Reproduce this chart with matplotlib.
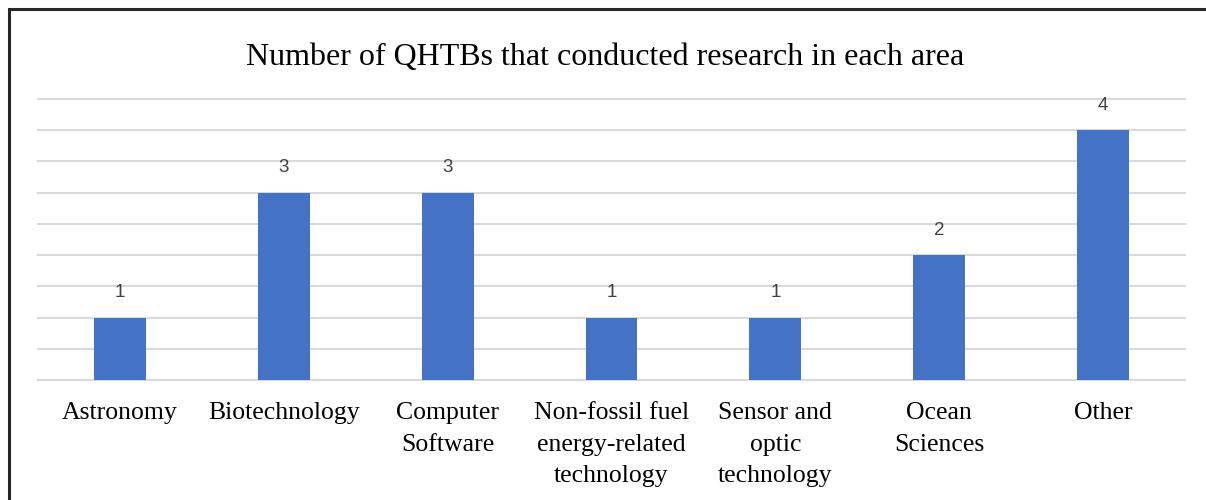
import matplotlib
matplotlib.use('Agg')
import matplotlib.pyplot as plt
from matplotlib.patches import Rectangle

categories = ['Astronomy', 'Biotechnology', 'Computer\nSoftware', 'Non-fossil fuel\nenergy-related\ntechnology',
              'Sensor and\noptic\ntechnology', 'Ocean\nSciences', 'Other']
counts = [1, 3, 3, 1, 1, 2, 4]

serif = ['Liberation Serif', 'DejaVu Serif']

fig = plt.figure(figsize=(12.06, 5.0), dpi=100)
ax = fig.add_axes([38 / 1206, 1 - 380 / 500, 1147 / 1206, 281 / 500])

x = list(range(len(categories)))
bars = ax.bar(x, counts, width=0.317, color='#4472c4', zorder=3)
for b, v in zip(bars, counts):
    ax.annotate(str(v), (b.get_x() + b.get_width() / 2, v), xytext=(0, 18), textcoords='offset points',
                ha='center', va='center', fontsize=13.5, color='#404040', family=['Liberation Sans', 'DejaVu Sans'])

ax.set_xlim(-0.5, len(categories) - 0.5)
ax.set_ylim(0, 4.5)
ax.set_yticks([i * 0.5 for i in range(10)])
ax.yaxis.grid(True, color='#d9d9d9', linewidth=1.5, zorder=0)
for gl in ax.yaxis.get_gridlines():
    gl.set_clip_on(False)
ax.tick_params(axis='y', left=False, labelleft=False)
ax.tick_params(axis='x', length=0, pad=16)
ax.set_xticks(x)
ax.set_xticklabels(categories, fontsize=18.5, family=serif, linespacing=1.56, va='top')
for s in ax.spines.values():
    s.set_visible(False)

fig.text(605 / 1206, 1 - 57 / 500, 'Number of QHTBs that conducted research in each area', ha='center', va='center',
         fontsize=23, family=serif, color='#000000')

fig.patches.append(Rectangle((8.5 / 1206, -0.1), 1.2, 1 - 8.5 / 500 + 0.1, transform=fig.transFigure,
                             fill=False, edgecolor='#262626', linewidth=2.2))

plt.savefig('out.png', dpi=100)
